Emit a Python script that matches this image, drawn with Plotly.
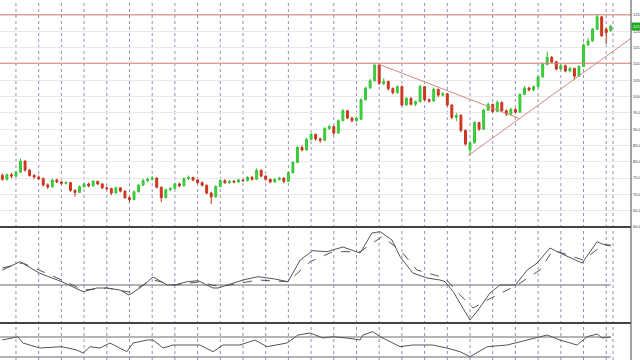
import plotly.graph_objects as go
from plotly.subplots import make_subplots

# ---------------- data ----------------
opens = [75.8, 74.6, 76.0, 75.6, 76.8, 80.2, 77.4, 75.8, 75.3, 74.8,
         72.9, 72.3, 74.4, 73.8, 73.4, 73.6, 71.2, 70.6, 72.3, 73.2,
         72.6, 74.0, 73.2, 72.0, 71.8, 70.4, 72.0, 71.0, 69.0, 68.4,
         70.8, 72.8, 74.2, 74.6, 75.0, 72.2, 69.0, 71.4, 71.8, 73.2,
         72.6, 74.8, 75.2, 74.4, 73.6, 72.8, 70.4, 69.2, 72.4, 74.2,
         73.6, 74.0, 73.8, 74.4, 74.2, 75.2, 74.6, 77.4, 75.6, 74.6,
         73.8, 74.6, 75.0, 74.0, 76.6, 79.8, 84.4, 83.6, 86.8, 88.4,
         87.0, 86.6, 90.2, 90.8, 88.8, 92.6, 95.6, 93.4, 92.6, 93.0,
         99.0, 102.6, 104.8, 109.6, 104.0, 104.6, 102.4, 101.2, 103.0, 97.4,
         99.4, 97.6, 98.4, 103.0, 99.0, 98.6, 102.2, 100.4, 100.8, 97.4,
         93.6, 94.2, 89.6, 83.6, 85.8, 92.0, 90.0, 95.8, 97.6, 95.4,
         98.2, 95.6, 94.6, 96.0, 95.2, 100.6, 102.6, 102.0, 103.0, 106.0,
         109.8, 112.0, 110.6, 108.4, 109.4, 107.8, 108.6, 106.2, 109.2, 115.8,
         117.0, 120.6, 124.4, 120.6, 120.2]
closes = [74.6, 76.0, 75.6, 76.8, 80.2, 77.4, 75.8, 75.3, 74.8, 72.9,
          72.3, 74.4, 73.8, 73.4, 73.6, 71.2, 70.6, 72.3, 73.2, 72.6,
          74.0, 73.2, 72.0, 71.8, 70.4, 72.0, 71.0, 69.0, 68.4, 70.8,
          72.8, 74.2, 74.6, 75.0, 72.2, 69.0, 71.4, 71.8, 73.2, 72.6,
          74.8, 75.2, 74.4, 73.6, 72.8, 70.4, 69.2, 72.4, 74.2, 73.6,
          74.0, 73.8, 74.4, 74.2, 75.2, 74.6, 77.4, 75.6, 74.6, 73.8,
          74.6, 75.0, 74.0, 76.6, 79.8, 84.4, 83.6, 86.8, 88.4, 87.0,
          86.6, 90.2, 90.8, 88.8, 92.6, 95.6, 93.4, 92.6, 93.4, 99.0,
          102.6, 104.8, 109.6, 104.0, 104.6, 102.4, 101.2, 103.0, 97.4, 99.4,
          97.6, 98.4, 103.0, 99.0, 98.6, 102.2, 100.4, 100.8, 97.4, 93.6,
          94.2, 89.6, 85.4, 85.8, 92.0, 90.0, 95.8, 97.6, 95.4, 98.2,
          95.6, 94.6, 96.0, 95.2, 100.6, 102.6, 102.0, 103.0, 106.0, 109.8,
          112.0, 110.6, 108.4, 109.4, 107.8, 108.6, 106.2, 109.2, 115.8, 117.0,
          120.6, 124.4, 118.6, 119.6, 121.5]
highs = [76.4, 76.4, 76.6, 77.2, 80.9, 80.4, 77.8, 76.2, 75.8, 75.2,
         73.4, 74.8, 74.8, 74.2, 74.0, 73.8, 71.6, 72.8, 73.6, 73.6,
         74.4, 74.2, 73.4, 72.4, 72.0, 72.4, 72.2, 71.2, 69.4, 71.2,
         73.2, 74.8, 75.2, 75.6, 75.2, 72.4, 71.8, 72.2, 73.6, 73.6,
         75.2, 75.8, 75.4, 74.8, 74.0, 73.0, 70.8, 72.8, 74.6, 74.6,
         74.4, 74.4, 74.8, 74.8, 75.6, 75.6, 78.0, 77.6, 75.8, 74.8,
         75.0, 75.4, 75.2, 77.0, 80.2, 84.8, 85.0, 87.4, 89.0, 88.6,
         87.4, 90.6, 91.4, 91.0, 93.0, 96.2, 95.8, 93.8, 93.8, 99.4,
         103.0, 105.4, 110.2, 109.8, 105.6, 104.8, 102.8, 103.4, 103.4, 99.8,
         99.8, 98.8, 103.6, 103.2, 99.4, 102.8, 102.4, 101.4, 101.0, 97.6,
         95.0, 94.6, 89.8, 86.2, 92.4, 92.2, 96.2, 98.2, 97.8, 98.8,
         98.4, 96.0, 96.6, 96.4, 101.0, 103.2, 103.0, 103.4, 106.4, 110.4,
         113.8, 112.4, 111.0, 109.8, 109.8, 109.0, 108.8, 109.6, 116.2, 118.0,
         121.0, 125.2, 124.6, 121.0, 122.0]
lows = [74.2, 74.2, 75.0, 75.2, 76.6, 77.0, 75.4, 74.8, 74.4, 72.4,
        71.6, 72.0, 73.4, 73.0, 73.0, 70.8, 69.3, 70.4, 72.0, 72.2,
        72.4, 72.8, 71.6, 71.2, 69.8, 70.2, 70.6, 68.6, 67.6, 68.2,
        70.6, 72.6, 73.8, 74.2, 71.8, 67.6, 68.8, 71.0, 71.6, 72.2,
        72.4, 74.4, 74.0, 73.2, 72.4, 70.0, 67.0, 69.0, 72.2, 73.2,
        73.2, 73.4, 73.6, 73.8, 74.0, 74.2, 74.4, 75.2, 74.2, 73.4,
        73.6, 74.2, 73.4, 73.8, 76.4, 79.6, 83.2, 83.4, 86.6, 86.4,
        85.8, 86.4, 89.8, 88.2, 88.6, 92.4, 93.0, 92.0, 92.2, 92.8,
        98.8, 102.4, 104.6, 103.6, 103.4, 101.8, 100.6, 100.8, 97.0, 97.0,
        97.2, 97.0, 98.2, 98.6, 98.0, 98.4, 99.8, 100.0, 97.0, 93.0,
        92.4, 89.0, 85.0, 82.2, 85.6, 89.4, 89.8, 95.6, 95.0, 95.2,
        95.2, 94.0, 94.2, 94.8, 95.0, 100.4, 101.6, 101.6, 102.8, 105.8,
        109.6, 110.2, 108.0, 108.2, 107.4, 107.4, 105.2, 106.0, 109.0, 115.4,
        116.8, 120.4, 118.2, 116.0, 119.8]
bars = list(range(len(closes)))

# levels & trendlines (bar index, price)
level_prices = [125.0, 110.2]
trend_down_x = [82.7, 114.0]
trend_down_y = [110.0, 93.2]
trend_up_x = [102.6, 138.46]
trend_up_y = [81.9, 117.8]

# oscillator panel (bar index, value)
osc_main_x = [0, 3.9, 8.1, 13.1, 17.8, 20.8, 23, 25.9, 27.9, 30.3, 33.2, 36.3, 38, 40.7, 43.1,
              46.4, 47.5, 53, 56.3, 60, 62.9, 65.6, 68.4, 71.5, 75, 78.8, 81.4, 83.2, 85.8,
              87.6, 90.4, 93.5, 96.4, 97.5, 99.3, 103, 104.8, 107.4, 109.6, 113, 115.6,
              117.8, 120.6, 122.8, 127.7, 131, 132.1, 134]
osc_main_y = [15, 23.3, 12, 3.3, -6.7, -3, -3, -5, -10, -3, 8, 0, 0, 3.3, 4.3,
              -3, -3, 5, 8.3, 6, 3.3, 25, 34.3, 33.3, 38, 32, 52, 53.3, 45,
              28.3, 12, 7, 5, 3.3, -6.7, -35, -25, -8, 0, 0, 15,
              22, 37, 32, 22, 43.3, 41, 39]
osc_sig_x = [0, 3.9, 4.5, 13.1, 17.8, 23, 27.9, 33.2, 38, 43.1, 48, 56.3, 62.9, 67.8, 72.8,
             78.8, 83.6, 87.6, 91.3, 97.5, 100.1, 103.7, 106.8, 113.4, 118.4, 121.3, 124.4,
             127.9, 132.3, 134]
osc_sig_y = [17, 22, 22, 5, -5, -3, -7, 5, 0, 3, -1.7, 5, 3.3, 23.3, 33.3,
             33.3, 48.3, 35, 15, 7, -6.7, -23, -15, 0, 15, 35, 30,
             25, 40, 40]
# bottom panel (bar index, value)
low_x = [0, 3.4, 4.5, 8.3, 13.1, 16.4, 17.8, 19.3, 21.5, 23.7, 27.4, 28.8, 31.9, 33.2, 35.4,
         37.6, 40.7, 43.5, 46.4, 48.6, 52.3, 55.6, 58.3, 62.7, 65.1, 67.8, 70.6, 72.8, 75.9,
         78.8, 79.4, 81.6, 83.2, 87.6, 90.4, 94.8, 97.9, 100.8, 103, 106.8, 111.2, 114,
         116.9, 120, 122.8, 126.6, 128.8, 131, 132.1, 134]
low_y = [-3, 0.3, -6, -11, -9.7, -13, -16, -9.7, -11, -6, -14.7, -6, -3, -3, -11,
         -8, -8, -8, -14.7, -8, -8, -3, -9.7, -6, 2, 4, -1, 0.3, -1,
         -3, 2, 5.3, 0.3, -9.7, -8, -8, -11, -14.7, -19.7, -9.7, -8, -4.7,
         -1, 2, -3, -8, 0.3, 3, -1, 0]

price_ticks = [60, 65, 70, 75, 80, 85, 90, 95, 100, 105, 110, 115, 120, 125]
separator_bars = [3 + 5 * k for k in range(27)] + [134.5]

# ---------------- figure ----------------
fig = make_subplots(rows=3, cols=1, shared_xaxes=True, vertical_spacing=0)

fig.add_trace(go.Candlestick(
    x=bars, open=opens, high=highs, low=lows, close=closes,
    increasing=dict(line=dict(color="#35c435", width=1), fillcolor="#42d442"),
    decreasing=dict(line=dict(color="#c8321e", width=1), fillcolor="#d23c22"),
    hoverinfo="skip", showlegend=False), row=1, col=1)

for lp in level_prices:
    fig.add_trace(go.Scatter(x=[-0.52, 138.46], y=[lp, lp], mode="lines",
                             line=dict(color="#d77a72", width=1), showlegend=False,
                             hoverinfo="skip"), row=1, col=1)
fig.add_trace(go.Scatter(x=trend_down_x, y=trend_down_y, mode="lines",
                         line=dict(color="#d08a84", width=1), showlegend=False), row=1, col=1)
fig.add_trace(go.Scatter(x=trend_up_x, y=trend_up_y, mode="lines",
                         line=dict(color="#d08a84", width=1), showlegend=False), row=1, col=1)

# oscillator
fig.add_trace(go.Scatter(x=[-0.52, 134], y=[0, 0], mode="lines",
                         line=dict(color="#6a6a6a", width=1), showlegend=False), row=2, col=1)
fig.add_trace(go.Scatter(x=osc_main_x, y=osc_main_y, mode="lines",
                         line=dict(color="#555555", width=1), showlegend=False), row=2, col=1)
fig.add_trace(go.Scatter(x=osc_sig_x, y=osc_sig_y, mode="lines",
                         line=dict(color="#555555", width=1, dash="dash"), showlegend=False), row=2, col=1)

# bottom
for lv in [0, -20]:
    fig.add_trace(go.Scatter(x=[-0.52, 134], y=[lv, lv], mode="lines",
                             line=dict(color="#6a6a6a", width=1), showlegend=False), row=3, col=1)
fig.add_trace(go.Scatter(x=low_x, y=low_y, mode="lines",
                         line=dict(color="#555555", width=1), showlegend=False), row=3, col=1)

shapes = []
for sb in separator_bars:
    shapes.append(dict(type="line", xref="x", yref="paper", x0=sb, x1=sb, y0=0, y1=1,
                       line=dict(color="#9090b8", width=1, dash="dot"), layer="below"))
XD = 631 / 640
for yy in [1 - 227 / 360, 1 - 323 / 360]:
    shapes.append(dict(type="line", xref="paper", yref="paper", x0=0, x1=XD, y0=yy, y1=yy,
                       line=dict(color="#444444", width=2)))
shapes.append(dict(type="line", xref="paper", yref="paper", x0=XD, x1=XD, y0=0, y1=1,
                   line=dict(color="#444444", width=1)))

fig.update_layout(
    width=640, height=360, margin=dict(l=0, r=0, t=0, b=0, autoexpand=False),
    paper_bgcolor="white", plot_bgcolor="white",
    boxgap=0.4, shapes=shapes, hovermode=False, showlegend=False,
    annotations=[dict(x=XD, xref="paper", xanchor="left", y=closes[-1], yref="y",
                      text=f"{closes[-1]:.1f}", showarrow=False, bgcolor="#21a821",
                      font=dict(size=4, color="white", family="Liberation Sans"),
                      borderpad=1)],
)
fig.update_xaxes(range=[-0.52, 138.46], domain=[0, XD], showgrid=False, zeroline=False,
                 showticklabels=False, ticks="", rangeslider_visible=False, showline=False,
                 automargin=False)
fig.update_layout(
    yaxis=dict(domain=[1 - 227 / 360, 1], range=[60, 129.56], side="right",
               tickvals=price_ticks, ticktext=[f"{v:.1f}" for v in price_ticks],
               tickfont=dict(size=4, color="#333333", family="Liberation Sans"),
               ticklabelstandoff=1,
               showgrid=True, gridcolor="#e8e8e8", gridwidth=1, zeroline=False, ticks="",
               automargin=False),
    yaxis2=dict(domain=[1 - 323 / 360, 1 - 227 / 360], range=[-38, 58], side="right",
                showticklabels=False, showgrid=False, zeroline=False, automargin=False),
    yaxis3=dict(domain=[0, 1 - 323 / 360], range=[-23, 14], side="right",
                showticklabels=False, showgrid=False, zeroline=False, automargin=False),
)

fig.write_html("out.html")
